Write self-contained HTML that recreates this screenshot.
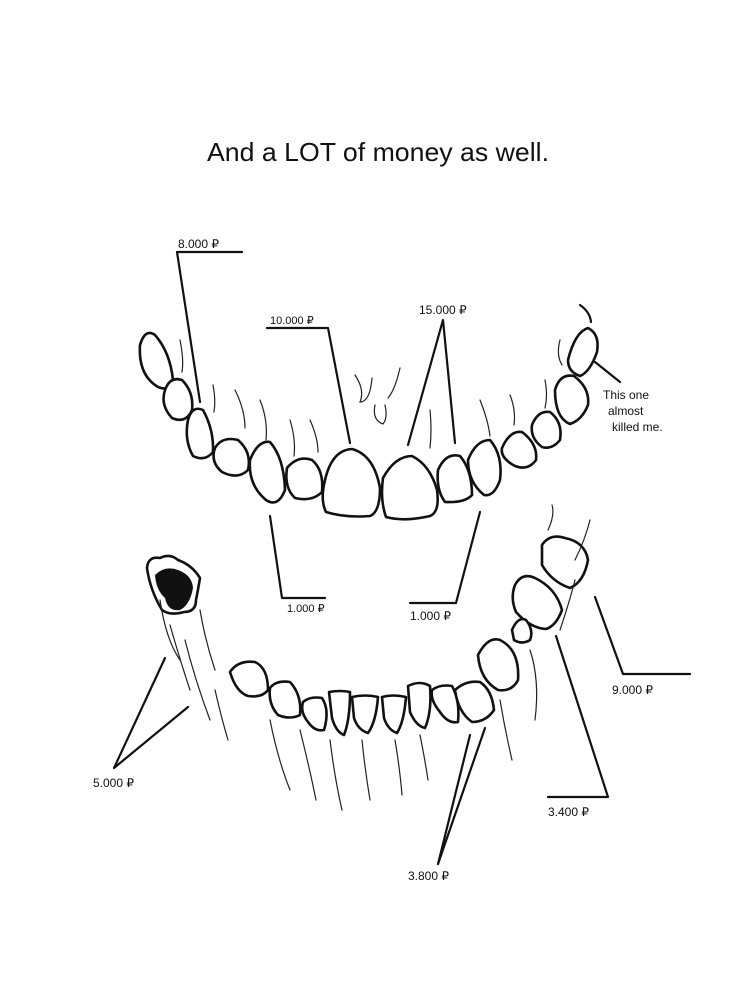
<!DOCTYPE html>
<html><head><meta charset="utf-8"><style>
html,body{margin:0;padding:0;background:#fff;}
svg{display:block;}
text{font-family:"Liberation Sans",sans-serif;fill:#111;}
</style></head><body>
<svg width="754" height="1000" viewBox="0 0 754 1000" xmlns="http://www.w3.org/2000/svg">
<text x="207" y="161" font-size="26" textLength="342" lengthAdjust="spacingAndGlyphs">And  a LOT of money  as  well.</text>

<g fill="none" stroke="#111" stroke-width="2.2" stroke-linecap="round" stroke-linejoin="round">
<!-- connectors upper -->
<polyline points="242,252 177,252 200,402"/>
<polyline points="267,328 328,328 350,443"/>
<polyline points="408,445 443,320 455,443"/>
<polyline points="595,362 620,382"/>
<path d="M580,305 Q590,312 591,322"/>
<polyline points="270,516 282,598 325,598"/>
<polyline points="480,512 456,603 410,603"/>
<!-- lower connectors -->
<polyline points="165,658 114,768 188,707"/>
<polyline points="595,597 623,674 690,674"/>
<polyline points="556,636 608,797 548,797"/>
<polyline points="470,735 438,864 485,728"/>
<line x1="410" y1="864" x2="455" y2="864" stroke-width="0"/>
</g>

<!-- upper teeth -->
<g fill="#fff" stroke="#111" stroke-width="2.6" stroke-linejoin="round">
<path d="M140,345 Q145,328 155,335 Q170,352 173,380 Q170,392 158,387 Q138,375 140,345Z"/>
<path d="M165,390 Q170,376 182,380 Q194,392 192,410 Q186,424 172,418 Q160,405 165,390Z"/>
<path d="M188,420 Q192,405 203,410 Q214,430 213,452 Q205,462 193,456 Q184,440 188,420Z"/>
<path d="M215,448 Q222,436 238,440 Q252,452 248,470 Q238,480 222,472 Q210,462 215,448Z"/>
<path d="M250,460 Q258,440 270,442 Q284,458 285,490 Q278,508 266,500 Q248,485 250,460Z"/>
<path d="M287,468 Q298,455 312,460 Q324,470 322,492 Q312,502 295,498 Q284,488 287,468Z"/>
<path d="M325,480 Q332,450 352,449 Q374,455 380,488 Q380,512 370,516 Q345,518 326,512 Q320,500 325,480Z"/>
<path d="M383,478 Q395,456 412,456 Q430,465 437,490 Q440,512 430,516 Q405,522 386,517 Q380,500 383,478Z"/>
<path d="M438,470 Q446,452 460,456 Q472,470 472,495 Q465,503 445,502 Q436,490 438,470Z"/>
<path d="M468,460 Q476,440 490,440 Q503,455 500,480 Q494,497 484,495 Q468,482 468,460Z"/>
<path d="M502,448 Q510,430 522,432 Q538,444 536,460 Q528,471 515,466 Q500,458 502,448Z"/>
<path d="M532,425 Q538,410 550,412 Q563,422 560,440 Q552,450 542,447 Q530,438 532,425Z"/>
<path d="M555,390 Q560,373 574,376 Q590,388 588,405 Q582,420 570,424 Q555,418 555,390Z"/>
<path d="M568,360 Q575,332 588,328 Q600,334 597,352 Q590,372 580,376 Q568,372 568,360Z"/>
</g>

<!-- lower teeth -->
<g fill="#fff" stroke="#111" stroke-width="2.6" stroke-linejoin="round">
<path d="M147,568 Q148,556 160,558 Q170,553 178,560 Q192,565 200,578 Q198,590 196,600 Q196,612 184,612 Q170,616 162,610 Q150,590 147,568Z"/>
<path d="M230,672 Q238,660 255,662 Q268,668 268,690 Q262,698 248,696 Q236,692 230,672Z"/>
<path d="M270,688 Q276,680 290,682 Q302,695 300,715 Q290,720 278,715 Q268,704 270,688Z"/>
<path d="M303,702 Q310,696 322,698 Q330,710 324,730 Q315,732 308,722 Q300,712 303,702Z"/>
<path d="M329,692 Q340,690 350,692 Q350,720 344,735 Q336,732 332,718Z"/>
<path d="M352,697 Q365,694 378,697 Q376,722 368,733 Q358,730 354,718Z"/>
<path d="M382,697 Q393,694 406,697 Q404,722 397,733 Q388,730 384,718Z"/>
<path d="M408,686 Q420,680 430,686 Q432,712 425,728 Q416,726 410,712Z"/>
<path d="M432,690 Q440,684 452,686 Q460,700 458,722 Q448,724 440,712 Q430,700 432,690Z"/>
<path d="M455,690 Q466,680 480,682 Q492,690 494,710 Q486,722 472,722 Q458,712 455,690Z"/>
<path d="M478,655 Q488,636 500,640 Q520,650 518,680 Q512,692 498,690 Q480,680 478,655Z"/>
<path d="M515,585 Q522,572 535,578 Q556,588 562,610 Q556,626 546,629 Q530,628 516,612 Q510,598 515,585Z"/>
<path d="M542,545 Q550,533 565,538 Q585,542 588,560 Q584,582 570,588 Q552,582 542,565Z"/>
<path d="M512,630 Q518,616 526,620 Q534,630 530,640 Q522,645 514,640Z"/>
</g>
<path d="M155,575 Q165,565 178,570 Q192,575 193,588 Q190,605 180,610 Q168,612 165,598 Q156,590 155,575Z" fill="#111"/>

<!-- texture strokes -->
<g fill="none" stroke="#222" stroke-width="1.2" stroke-linecap="round">
<path d="M180,340 Q184,360 182,372"/><path d="M213,385 Q216,400 214,412"/>
<path d="M235,390 Q245,410 245,428"/><path d="M260,400 Q268,420 266,440"/>
<path d="M290,420 Q296,440 294,456"/><path d="M310,420 Q318,438 318,452"/>
<path d="M355,375 Q365,390 360,402 Q370,402 372,378"/>
<path d="M400,368 Q395,390 388,398"/><path d="M375,405 Q372,420 383,424 Q388,418 385,405"/>
<path d="M430,410 Q432,430 430,448"/><path d="M480,400 Q488,420 490,436"/>
<path d="M510,395 Q516,410 514,425"/><path d="M545,380 Q548,395 545,408"/>
<path d="M560,340 Q556,355 562,365"/>
<path d="M160,600 Q166,640 180,660"/><path d="M170,625 Q180,660 190,690"/>
<path d="M200,610 Q205,640 215,670"/><path d="M185,640 Q195,680 210,720"/>
<path d="M215,690 Q222,720 228,740"/><path d="M270,720 Q278,760 290,790"/>
<path d="M300,730 Q310,770 316,800"/><path d="M330,740 Q335,780 342,810"/>
<path d="M362,740 Q365,770 370,800"/><path d="M395,740 Q400,770 402,795"/>
<path d="M420,735 Q425,760 428,780"/><path d="M500,700 Q505,730 512,760"/>
<path d="M530,650 Q540,680 535,720"/><path d="M560,630 Q570,600 575,580"/>
<path d="M575,560 Q585,540 590,520"/><path d="M548,530 Q555,515 552,505"/>
</g>

<g font-size="12">
<text x="178" y="248">8.000 ₽</text>
<text x="270" y="324" font-size="11">10.000 ₽</text>
<text x="419" y="314">15.000 ₽</text>
<text x="603" y="399" font-size="12">This one</text>
<text x="608" y="415" font-size="12">almost</text>
<text x="612" y="431" font-size="12">killed me.</text>
<text x="287" y="612" font-size="11">1.000 ₽</text>
<text x="410" y="620">1.000 ₽</text>
<text x="93" y="787">5.000 ₽</text>
<text x="612" y="694">9.000 ₽</text>
<text x="548" y="816">3.400 ₽</text>
<text x="408" y="880">3.800 ₽</text>
</g>
</svg>
</body></html>
